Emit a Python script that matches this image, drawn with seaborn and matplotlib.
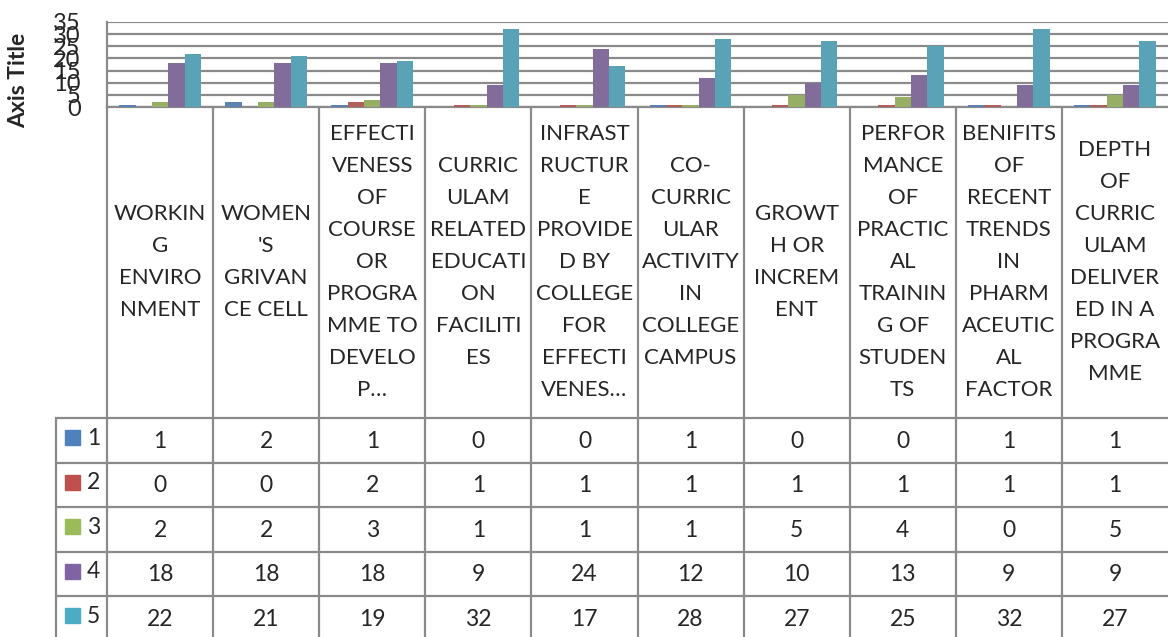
import numpy as np
import pandas as pd
import seaborn as sns
import matplotlib.pyplot as plt

# categories as wrapped in the chart's data table
categories = [
    "WORKIN\nG\nENVIRO\nNMENT",
    "WOMEN\n'S\nGRIVAN\nCE CELL",
    "EFFECTI\nVENESS\nOF\nCOURSE\nOR\nPROGRA\nMME TO\nDEVELO\nP…",
    "CURRIC\nULAM\nRELATED\nEDUCATI\nON\nFACILITI\nES",
    "INFRAST\nRUCTUR\nE\nPROVIDE\nD BY\nCOLLEGE\nFOR\nEFFECTI\nVENES…",
    "CO-\nCURRIC\nULAR\nACTIVITY\nIN\nCOLLEGE\nCAMPUS",
    "GROWT\nH OR\nINCREM\nENT",
    "PERFOR\nMANCE\nOF\nPRACTIC\nAL\nTRAININ\nG OF\nSTUDEN\nTS",
    "BENIFITS\nOF\nRECENT\nTRENDS\nIN\nPHARM\nACEUTIC\nAL\nFACTOR",
    "DEPTH\nOF\nCURRIC\nULAM\nDELIVER\nED IN A\nPROGRA\nMME",
]
series_names = ["1", "2", "3", "4", "5"]
s1 = [1, 2, 1, 0, 0, 1, 0, 0, 1, 1]
s2 = [0, 0, 2, 1, 1, 1, 1, 1, 1, 1]
s3 = [2, 2, 3, 1, 1, 1, 5, 4, 0, 5]
s4 = [18, 18, 18, 9, 24, 12, 10, 13, 9, 9]
s5 = [22, 21, 19, 32, 17, 28, 27, 25, 32, 27]
yticks = [0, 5, 10, 15, 20, 25, 30, 35]

colors = ["#4F81BD", "#C0504D", "#9BBB59", "#8064A2", "#4BACC6"]
grid_col = "#8a8a8a"

all_series = [s1, s2, s3, s4, s5]
df = pd.DataFrame({
    "category": categories * 5,
    "series": [n for n in series_names for _ in categories],
    "value": [v for s in all_series for v in s],
})

sns.set_style("white")
plt.rcParams["font.family"] = ["Lato", "DejaVu Sans"]

W, H = 1168, 637
fig = plt.figure(figsize=(W / 100, H / 100), dpi=100)

top, axis_y, tab_head, row_h = 22, 107, 418, 44.5
ax = fig.add_axes([107 / W, 1 - axis_y / H, (W - 107) / W, (axis_y - top) / H])

sns.barplot(
    data=df, x="category", y="value", hue="series", order=categories,
    hue_order=series_names, palette=colors, width=0.77, gap=0,
    edgecolor="none", linewidth=0, legend=False, ax=ax, zorder=3,
)
ax.set_xlim(-0.5, len(categories) - 0.5)
ax.set_ylim(0, 35)
ax.set_yticks(yticks)
ax.set_yticklabels([str(t) for t in yticks], fontsize=17)
ax.tick_params(axis="y", length=0, pad=19)
ax.set_xticks([])
ax.set_xlabel("")
ax.set_ylabel("")
ax.yaxis.grid(True, color=grid_col, linewidth=1.6)
ax.set_axisbelow(True)
for side in ["top", "right"]:
    ax.spines[side].set_visible(False)
for side in ["left", "bottom"]:
    ax.spines[side].set_color(grid_col)
    ax.spines[side].set_linewidth(1.6)
    ax.spines[side].set_zorder(2)

fig.text(19 / W, 1 - 80 / H, "Axis Title", rotation=90, fontsize=16.5,
         fontweight="bold", ha="center", va="center")

# data table drawn in pixel coordinates under the plot
tab = fig.add_axes([0, 0, 1, 1], zorder=-1)
tab.set_xlim(0, W)
tab.set_ylim(H, 0)
tab.axis("off")

def px_x(v):
    return ax.transData.transform((v, 0))[0]

bounds = [px_x(i - 0.5) for i in range(len(categories) + 1)]
centers = [px_x(i) for i in range(len(categories))]
left_col = 56
lw = 1.6

# vertical lines
for b in bounds[:-1]:
    tab.plot([b, b], [axis_y, H], color=grid_col, lw=lw)
tab.plot([left_col, left_col], [tab_head, H], color=grid_col, lw=lw)
# horizontal lines
for r in range(len(series_names)):
    y = tab_head + r * row_h
    tab.plot([left_col, W], [y, y], color=grid_col, lw=lw)

# header text
head_c = (axis_y + tab_head) / 2
line_gap = 32
for cx, lab in zip(centers, categories):
    lines = lab.split("\n")
    n = len(lines)
    for k, ln in enumerate(lines):
        tab.text(cx, head_c + (k - (n - 1) / 2) * line_gap, ln, fontsize=16,
                 ha="center", va="center")

# rows
for r, (name, vals, col) in enumerate(zip(series_names, all_series, colors)):
    yc = tab_head + (r + 0.5) * row_h
    tab.add_patch(plt.Rectangle((65, yc - 10), 15, 15, color=col))
    tab.text(87, yc - 2, name, fontsize=16.5, ha="left", va="center")
    for cx, v in zip(centers, vals):
        tab.text(cx, yc + 1, str(v), fontsize=16.5, ha="center", va="center")

fig.savefig("out.png", dpi=100)
